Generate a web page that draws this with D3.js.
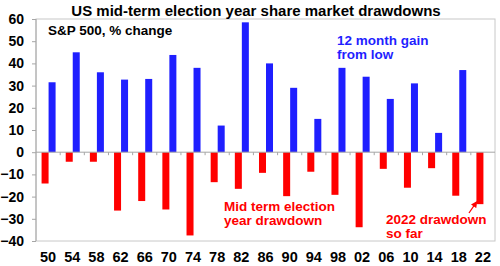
<html>
  <head>
    <meta charset="utf-8">
    <style>
      body { margin: 0; background: #fff; }
      text { font-family: "Liberation Sans", Arial, sans-serif; font-weight: bold; }
      .axis text { font-size: 14.5px; fill: #000; }
      .axis.y text { font-size: 14px; }
      .axis path, .axis line { stroke: #a6a6a6; }
    </style>
  </head>
<body>
  <svg width="500" height="266"></svg>
  <script src="https://d3js.org/d3.v7.min.js"></script>
  <script>
    var years = ["50", "54", "58", "62", "66", "70", "74", "78", "82", "86",
                 "90", "94", "98", "02", "06", "10", "14", "18", "22"];
    var drawdown = [-14.1, -4.3, -4.3, -26.3, -22, -25.8, -37.5, -13.5, -16.5, -9.3,
                    -19.8, -8.8, -19.2, -33.8, -7.5, -16, -7.2, -19.6, -23.4];
    var gain = [31.5, 45, 36, 32.7, 33, 43.8, 38, 12, 58.5, 40,
                29, 15, 38, 34, 24, 31, 8.7, 37, null];
    var yTicks = [-40, -30, -20, -10, 0, 10, 20, 30, 40, 50, 60];

    var svg = d3.select("svg");
    var plot = {left: 36, right: 495, top: 19, bottom: 241};

    var x = d3.scaleBand().domain(years).range([plot.left, plot.right]);
    var y = d3.scaleLinear().domain([-40, 60]).range([plot.bottom, plot.top]);
    var bw = x.step() * 0.29;

    // plot border
    svg.append("rect")
      .attr("x", plot.left).attr("y", plot.top)
      .attr("width", plot.right - plot.left).attr("height", plot.bottom - plot.top)
      .attr("fill", "none").attr("stroke", "#c8c8c8");

    svg.append("g")
      .attr("class", "axis y")
      .attr("transform", "translate(" + plot.left + ",0)")
      .call(d3.axisLeft(y).tickValues(yTicks).tickSize(4).tickPadding(8))
      .call(function (g) { g.select(".domain").remove(); });

    svg.append("line")
      .attr("x1", plot.left).attr("x2", plot.left)
      .attr("y1", plot.top).attr("y2", plot.bottom)
      .attr("stroke", "#a6a6a6");

    // category ticks on the zero line
    svg.append("g")
      .selectAll("line")
      .data(years.slice(1))
      .enter()
      .append("line")
      .attr("x1", function (d) { return x(d); })
      .attr("x2", function (d) { return x(d); })
      .attr("y1", y(0)).attr("y2", y(0) + 3)
      .attr("stroke", "#a6a6a6");

    var data = years.map(function (d, i) {
      return {year: d, drawdown: drawdown[i], gain: gain[i]};
    });

    svg.selectAll(".red")
      .data(data)
      .enter()
      .append("rect")
      .attr("class", "red")
      .attr("x", function (d) { return x(d.year) + x.step() / 2 - bw + 0.5; })
      .attr("y", y(0))
      .attr("width", bw)
      .attr("height", function (d) { return y(d.drawdown) - y(0); })
      .attr("fill", "#ff0000");

    svg.selectAll(".blue")
      .data(data.filter(function (d) { return d.gain != null; }))
      .enter()
      .append("rect")
      .attr("class", "blue")
      .attr("x", function (d) { return x(d.year) + x.step() / 2 + 0.5; })
      .attr("y", function (d) { return y(d.gain); })
      .attr("width", bw)
      .attr("height", function (d) { return y(0) - y(d.gain); })
      .attr("fill", "#1f1fff");

    svg.append("line")
      .attr("x1", plot.left).attr("x2", plot.right)
      .attr("y1", y(0)).attr("y2", y(0))
      .attr("stroke", "#a6a6a6");

    // x labels
    svg.append("g")
      .attr("class", "axis")
      .selectAll("text")
      .data(years)
      .enter()
      .append("text")
      .attr("x", function (d) { return x(d) + x.step() / 2; })
      .attr("y", 262)
      .attr("text-anchor", "middle")
      .text(function (d) { return d; });

    svg.append("text")
      .attr("x", 256).attr("y", 16)
      .attr("text-anchor", "middle")
      .style("font-size", "15px")
      .text("US mid-term election year share market drawdowns");

    function label(xp, yp, lines, color) {
      var t = svg.append("text")
        .attr("x", xp).attr("y", yp)
        .style("font-size", "13.5px")
        .attr("fill", color);
      lines.forEach(function (s, i) {
        t.append("tspan").attr("x", xp).attr("dy", i ? 13.5 : 0).text(s);
      });
    }

    label(48, 35, ["S&P 500, % change"], "#000");
    label(337, 45, ["12 month gain", "from low"], "#1f1fff");
    label(224, 211, ["Mid term election", "year drawdown"], "#ff0000");
    label(386, 224, ["2022 drawdown", "so far"], "#ff0000");

    // arrow to the 2022 bar
    svg.append("defs").append("marker")
      .attr("id", "head")
      .attr("viewBox", "0 0 10 10")
      .attr("refX", 8).attr("refY", 5)
      .attr("markerWidth", 5).attr("markerHeight", 5)
      .attr("orient", "auto")
      .append("path")
      .attr("d", "M0,0L10,5L0,10z")
      .attr("fill", "#ff0000");

    svg.append("line")
      .attr("x1", 469).attr("y1", 213)
      .attr("x2", 476.5).attr("y2", 202)
      .attr("stroke", "#ff0000")
      .attr("stroke-width", 1.3)
      .attr("marker-end", "url(#head)");
  </script>
</body>
</html>
